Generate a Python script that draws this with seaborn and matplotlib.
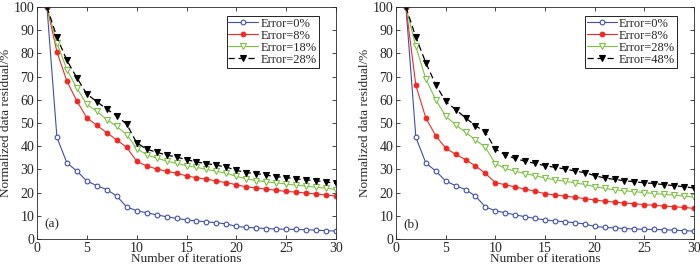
import numpy as np
import pandas as pd
import matplotlib
matplotlib.use("Agg")
import matplotlib.pyplot as plt
import seaborn as sns

iterations = list(range(1, 31))

# panel (a)
a_err0 = [100, 43.8, 32.8, 29.3, 25.0, 23.0, 21.3, 18.5, 13.8, 12.2, 11.3, 10.4, 9.6, 8.9, 8.2,
          7.8, 7.4, 7.0, 6.5, 5.4, 5.0, 4.8, 4.5, 4.3, 4.2, 4.1, 4.0, 3.8, 3.6, 3.4]
a_err8 = [100, 80.7, 68.0, 59.5, 52.2, 49.0, 45.8, 42.7, 39.5, 33.5, 31.5, 30.2, 29.2, 28.4, 27.2,
          26.4, 25.8, 25.0, 24.3, 23.4, 22.5, 22.0, 21.5, 21.0, 20.5, 20.2, 19.8, 19.4, 19.0, 18.5]
a_err18 = [100, 84.5, 73.0, 65.0, 58.0, 55.0, 51.5, 48.5, 45.0, 39.0, 36.3, 34.9, 33.6, 32.6, 31.6,
           30.9, 30.0, 29.2, 28.3, 27.0, 25.9, 25.2, 24.6, 24.2, 23.7, 23.2, 22.8, 22.3, 21.9, 21.3]
a_err28 = [100, 87.0, 77.0, 69.5, 62.5, 59.2, 56.0, 53.0, 49.5, 41.5, 38.7, 37.4, 36.2, 35.3, 34.2,
           33.2, 32.5, 31.8, 31.0, 29.6, 28.6, 28.2, 27.5, 26.9, 26.5, 25.9, 25.5, 25.1, 24.6, 24.0]

# panel (b)
b_err0 = a_err0
b_err8 = [100, 66.2, 52.2, 44.5, 39.2, 36.5, 34.2, 31.5, 28.3, 24.3, 23.4, 22.4, 21.5, 20.6, 19.5,
          19.0, 18.5, 18.0, 17.4, 16.8, 16.3, 15.9, 15.5, 15.2, 14.8, 14.5, 14.2, 13.9, 13.6, 13.2]
b_err28 = [100, 83.0, 69.0, 60.0, 53.0, 49.2, 46.0, 42.7, 39.5, 32.5, 30.4, 29.2, 28.2, 27.3, 26.3,
           25.5, 24.9, 24.2, 23.5, 22.6, 21.8, 21.2, 20.8, 20.4, 20.0, 19.6, 19.2, 18.9, 18.5, 18.1]
b_err48 = [100, 87.0, 76.0, 66.5, 59.3, 55.8, 52.2, 48.9, 46.0, 38.8, 36.2, 34.7, 33.5, 32.6, 31.6,
           30.9, 30.2, 29.3, 28.6, 27.3, 26.3, 25.7, 25.1, 24.7, 24.2, 23.9, 23.4, 23.0, 22.5, 22.0]

a_labels = ["Error=0%", "Error=8%", "Error=18%", "Error=28%"]
b_labels = ["Error=0%", "Error=8%", "Error=28%", "Error=48%"]

sns.set_style("ticks")
plt.rcParams['font.family'] = ['Liberation Serif', 'DejaVu Serif']

blue = '#3F4FA6'
red = '#EE2A24'
green = '#7CC242'
styles = [
    dict(color=blue, marker='o', mfc='white', mec=blue, ms=3.4, lw=0.8, ls='-'),
    dict(color=red, marker='o', mfc=red, mec=red, ms=3.4, lw=0.8, ls='-'),
    dict(color=green, marker='v', mfc='white', mec=green, ms=3.8, lw=0.8, ls='-'),
    dict(color='black', marker='v', mfc='black', mec='black', ms=3.8, lw=0.9, ls=(0, (5, 3))),
]

fig = plt.figure(figsize=(7.0, 2.71), dpi=100)
ax_a = fig.add_axes([37 / 700, 1 - 239 / 271, 299 / 700, 232 / 271])
ax_b = fig.add_axes([396 / 700, 1 - 239 / 271, 298 / 700, 232 / 271])


def draw_panel(ax, series, labels, tag):
    for vals, lab, st in zip(series, labels, styles):
        df = pd.DataFrame({"iter": iterations, "resid": vals})
        sns.lineplot(data=df, x="iter", y="resid", ax=ax, label=lab,
                     color=st['color'], marker=st['marker'], markerfacecolor=st['mfc'],
                     markeredgecolor=st['mec'], markersize=st['ms'], markeredgewidth=0.8,
                     linewidth=st['lw'], linestyle=st['ls'])
    ax.set_xlim(0, 30)
    ax.set_ylim(0, 100)
    ax.set_xticks(range(0, 31, 5))
    ax.set_yticks(range(0, 101, 10))
    ax.tick_params(direction='in', top=True, right=True, labelsize=10, length=3, width=0.6, pad=2)
    for sp in ax.spines.values():
        sp.set_linewidth(0.6)
    ax.set_xlabel("Number of iterations", fontsize=9.5, labelpad=-1)
    ax.set_ylabel("Normalized data residual/%", fontsize=9.5, labelpad=1)
    ax.text(0.025, 0.05, tag, transform=ax.transAxes, fontsize=9.5)
    leg = ax.legend(loc='upper right', bbox_to_anchor=(0.943, 0.962), borderaxespad=0,
                    fontsize=9, frameon=True, fancybox=False, framealpha=1,
                    edgecolor='black', borderpad=0.15, labelspacing=0.0,
                    handlelength=2.4, handletextpad=0.2)
    leg.get_frame().set_linewidth(0.6)


draw_panel(ax_a, [a_err0, a_err8, a_err18, a_err28], a_labels, "(a)")
draw_panel(ax_b, [b_err0, b_err8, b_err28, b_err48], b_labels, "(b)")

fig.savefig("out.png", dpi=100)
